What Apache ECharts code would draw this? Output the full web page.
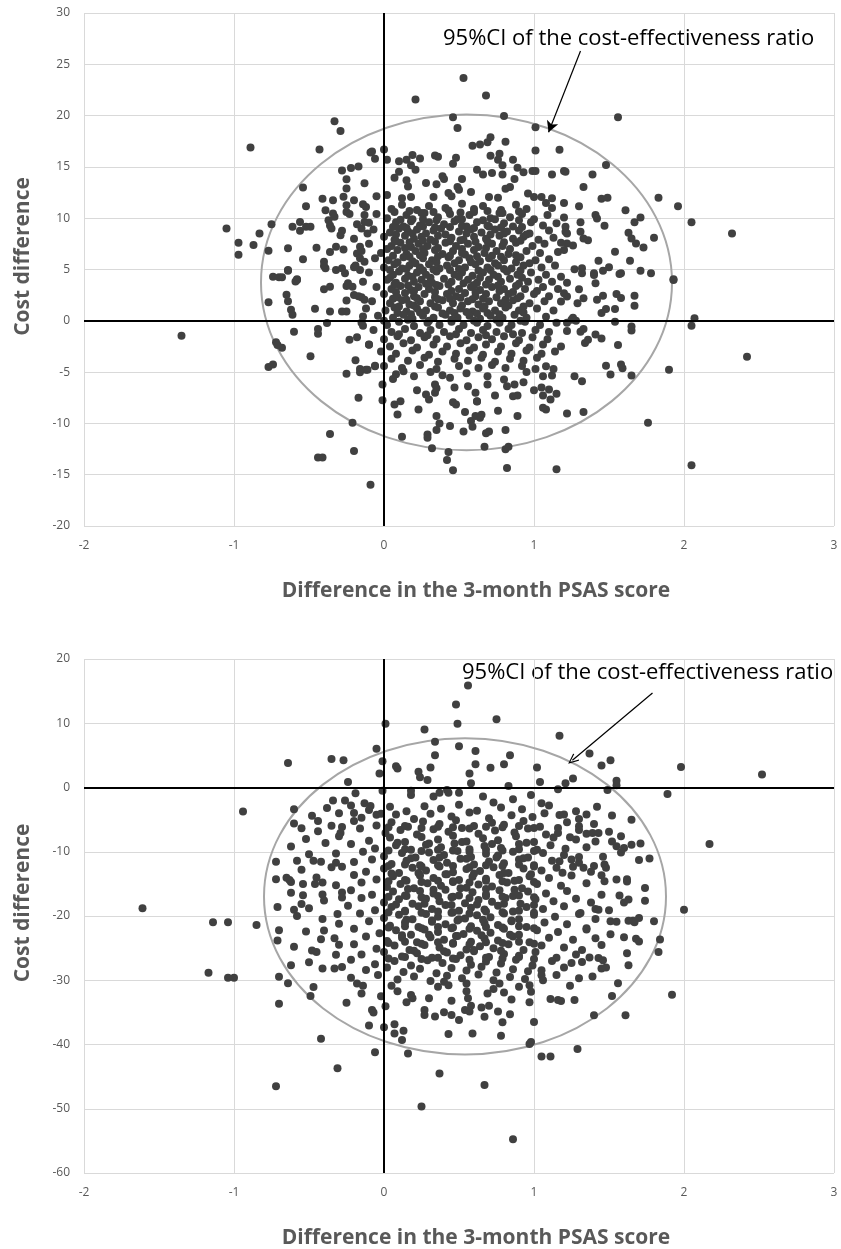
<!DOCTYPE html>
<html>
<head>
<meta charset="utf-8">
<script src="https://cdn.jsdelivr.net/npm/echarts@6/dist/echarts.min.js"></script>
<style>
  html, body { margin: 0; padding: 0; background: #fff; }
  #chart { width: 841px; height: 1249px; }
</style>
</head>
<body>
<div id="chart"></div>
<script>
// axis ticks
const xTicks = [-2, -1, 0, 1, 2, 3]
const topYTicks = [-20, -15, -10, -5, 0, 5, 10, 15, 20, 25, 30]
const bottomYTicks = [-60, -50, -40, -30, -20, -10, 0, 10, 20]

const xName = 'Difference in the 3-month PSAS score'
const yName = 'Cost difference'
const ciLabel = '95%CI of the cost-effectiveness ratio'

// ellipse: [centerX, centerY, radiusX, radiusY]
const topEllipse = [0.55, 3.74, 1.37, 16.36]
const bottomEllipse = [0.54, -16.95, 1.34, 24.6]

// arrow start / end in data coords
const topArrow = [[1.31, 26.3], [1.097, 18.38]]
const bottomArrow = [[1.79, 14.7], [1.256, 4.25]]

// upper chart, sparse points read one by one
const topOuter = [
  [-0.33,19.45],[-0.29,18.5],[-0.89,16.9],[-0.43,16.7],[-0.09,16.4],
  [-0.28,14.66],[-0.22,14.9],[-0.17,15.05],[-0.25,13.8],[-0.25,12.9],[-0.13,13.4],[-0.54,13.0],[-0.27,12.1],
  [-0.41,11.9],[-0.34,11.75],[-0.2,11.75],[-0.14,11.36],[-0.25,11.26],[-0.52,11.17],
  [-0.39,10.78],[-0.34,10.46],[-0.33,10.13],[-0.25,10.6],[-0.23,10.4],[-0.13,10.3],[-0.1,9.55],
  [-1.05,9.0],[-0.75,9.4],[-0.56,9.64],[-0.61,9.16],[-0.56,8.77],[-0.52,9.16],[-0.49,9.16],
  [-0.37,9.8],[-0.36,9.3],[-0.35,9.0],[-0.28,8.77],[-0.29,8.35],[-0.13,9.64],[-0.15,9.0],[-0.11,8.5],
  [-0.83,8.5],[-0.97,7.6],[-0.87,7.38],[-0.97,6.44],
  [-0.77,6.83],[-0.64,7.06],[-0.45,7.12],[-0.36,6.7],[-0.32,7.21],[-0.27,6.96],
  [-0.16,7.21],[-0.18,6.57],[-0.16,6.09],[-0.13,5.76],[-0.54,5.99],
  [-0.4,5.76],[-0.4,5.34],[-0.39,5.11],[-0.32,4.95],[-0.28,5.11],[-0.26,4.63],[-0.2,5.21],[-0.16,4.95],
  [-0.64,4.95],[-0.74,4.3],[-0.7,4.24],[-0.58,4.05],
  [0.53,23.66],[0.21,21.58],[0.68,21.97],[0.8,19.97],[0.46,19.84],[0.49,18.8],[1.01,18.87],[1.17,16.67],[1.01,16.6],
  [0.59,17.06],[0.64,17.18],[0.69,17.4],[0.71,17.9],[0.81,17.45],
  [-0.08,16.5],[0.0,16.7],[-0.06,15.8],
  [0.02,15.7],[0.1,15.56],[0.15,15.7],[0.19,16.15],[0.24,15.82],[0.34,16.1],[0.36,16.0],
  [0.18,15.15],[0.21,14.73],[0.48,15.9],[0.46,15.3],
  [0.71,16.08],[0.76,15.7],[0.77,16.28],[0.79,15.15],
  [0.86,15.7],[0.89,14.92],[0.93,14.47],[0.99,14.6],[1.01,14.6],[1.12,14.27],[1.2,14.6],
  [0.62,14.73],[0.66,14.27],[0.72,14.4],[0.79,14.27],[0.87,13.81],
  [0.07,13.95],[0.1,14.53],[0.15,13.69],[0.16,13.1],
  [0.28,13.42],[0.35,13.3],[0.39,14.08],[0.4,13.81],[0.52,13.81],
  [0.43,12.46],[0.49,13.04],[0.5,12.78],[0.45,12.14],
  [0.58,12.55],[0.7,12.07],[0.76,12.0],[0.81,12.88],[0.84,13.04],
  [0.96,12.4],[1.0,12.07],[1.05,12.07],[1.08,11.49],[1.12,11.94],[1.2,11.49],
  [-0.05,12.14],[0.02,12.27],[0.12,11.94],[0.18,12.07],[0.33,12.07],
  [1.56,19.84],[1.21,14.53],[1.48,15.18],[1.39,14.27],[1.33,13.04],[1.83,12.0],[1.96,11.17],
  [1.45,11.9],[1.49,12.0],[1.3,11.17],[1.61,10.78],[1.41,10.3],[1.42,9.97],[1.47,9.26],
  [1.2,10.07],[1.31,9.6],[1.21,9.16],[1.21,8.67],[1.22,8.5],[1.71,10.07],[1.67,9.6],[2.05,9.6],[2.32,8.5],
  [1.63,8.57],[1.65,8.03],[1.68,7.54],[1.73,7.15],[1.8,8.1],
  [1.31,8.67],[1.33,8.03],[1.36,7.86],[1.18,7.6],[1.22,7.54],[1.26,7.35],[1.2,6.9],
  [1.54,6.73],[1.43,5.85],[1.64,5.85],
  [1.27,5.02],[1.32,5.11],[1.32,4.63],[1.4,4.63],[1.46,4.88],[1.5,5.21],[1.58,4.63],[1.71,4.88],[1.78,4.63],[1.93,4.05],
  [-1.35,-1.46],[-0.68,4.24],[-0.64,4.88],[-0.59,3.82],[-0.58,3.98],
  [-0.4,3.07],[-0.36,3.33],[-0.65,2.55],[-0.64,1.91],[-0.77,1.82],
  [-0.62,1.07],[-0.61,0.58],[-0.46,1.17],[-0.36,0.9],[-0.28,0.9],[-0.25,0.9],
  [-0.25,1.97],[-0.2,2.52],[-0.15,2.3],[-0.13,2.04],[-0.21,3.33],[-0.25,3.4],[-0.24,3.66],
  [-0.38,-0.22],[-0.14,0.42],[-0.14,-0.49],[-0.6,-1.07],[-0.44,-0.8],[-0.44,-1.26],
  [-0.23,-1.84],[-0.1,-2.33],[-0.72,-2.1],[-0.71,-2.36],[-0.68,-2.62],[-0.49,-3.46],
  [-0.19,-3.85],[-0.16,-4.69],[-0.16,-5.02],[-0.12,-4.76],[-0.25,-5.15],[-0.77,-4.5],[-0.74,-4.27],
  [-0.17,-7.5],[-0.21,-9.93],[-0.36,-11.04],[-0.2,-12.69],[-0.44,-13.33],[-0.41,-13.33],[-0.09,-15.99],
  [0.46,-14.56],[0.82,-14.34],[1.15,-14.47],[0.42,-13.56],[0.43,-12.78],[0.32,-12.43],[0.12,-11.3],[0.29,-11.07],[0.29,-11.39],
  [0.67,-12.27],[0.81,-12.52],[0.83,-12.27],
  [0.35,-10.65],[0.44,-10.26],[0.53,-10.78],[0.68,-10.97],[0.7,-10.78],[0.81,-10.65],
  [0.37,-10.0],[0.58,-9.77],[0.59,-10.32],[0.61,-9.29],[0.64,-9.45],[0.65,-9.16],
  [0.35,-9.29],[0.54,-8.9],[0.48,-8.16],[0.46,-7.93],[0.62,-7.83],[0.76,-8.77],[0.89,-9.29],
  [1.06,-8.48],[1.08,-8.64],[1.22,-9.03],
  [0.09,-9.13],[0.07,-8.16],[0.11,-7.83],[0.23,-8.64],[0.22,-6.77],[0.28,-7.18],[0.3,-7.67],[0.34,-7.02],[0.34,-6.21],[0.35,-6.57],
  [-0.01,-7.74],[-0.01,-6.21],
  [0.06,-5.68],[0.13,-4.92],[-0.06,-4.44],[-0.11,-4.76],[-0.06,-4.37],
  [0.44,-5.55],[0.47,-6.5],[0.56,-6.38],[0.61,-7.02],[0.62,-7.86],[0.69,-6.21],[0.74,-7.28],
  [0.8,-5.73],[0.82,-6.38],[0.87,-6.21],[0.86,-7.35],[0.89,-7.28],[0.93,-5.99],[1.0,-6.77],
  [1.05,-6.5],[1.06,-7.28],[1.1,-6.7],[1.15,-7.1],[1.11,-7.67],[1.12,-5.34],[1.13,-4.69],[1.06,-5.4],[1.08,-4.44],
  [1.93,3.98],[2.07,0.26],[2.05,-0.49],[2.42,-3.5],[1.9,-4.76],[1.76,-9.93],[2.05,-14.08],
  [1.65,-5.34],[1.59,-4.63],[1.58,-4.27],[1.51,-5.24],[1.48,-4.37],[1.27,-5.4],[1.32,-5.9],[1.33,-8.9],
  [1.56,-2.36],[1.65,-0.55],[1.65,-0.94],[1.54,-0.1],
  [1.45,-1.72],[1.41,-1.33],[1.36,-1.84],[1.34,-2.17],[1.31,-1.07],[1.33,-0.8],[1.22,-1.0],[1.18,-2.5],
  [1.67,2.43],[1.67,1.46],[1.55,2.62],[1.58,2.23],[1.54,1.14],[1.48,1.14],[1.45,0.75],[1.46,2.43],[1.42,2.04],[1.41,3.66],[1.4,4.47],[1.57,4.56],
  [1.25,0.1],[1.22,-0.2],[1.26,0.3],[1.28,0.0],
  [1.18,4.3],[1.3,3.07],[1.22,2.36],[1.33,2.2],[1.29,1.72],[1.18,1.88],[1.2,2.69],[1.22,3.72]
]

// upper chart, dense middle, estimated
const topCore = [
  [-0.12,11.1],[0.05,10.9],[0.12,11.3],[0.22,10.8],[0.3,11.2],[0.41,11.0],[0.52,11.4],[0.6,10.9],[0.66,11.2],[0.78,10.8],[0.88,11.3],[0.95,10.9],[1.12,11.0],
  [-0.05,10.4],[0.02,10.0],[0.15,10.3],[0.19,9.9],[0.27,10.5],[0.36,10.1],[0.44,10.4],[0.49,9.9],[0.57,10.3],[0.71,10.0],[0.77,10.5],[0.84,10.1],[0.92,10.4],[1.0,9.9],[1.09,10.3],
  [-0.18,9.4],[0.08,9.6],[0.13,9.2],[0.18,9.7],[0.24,9.3],[0.3,9.6],[0.4,9.4],[0.47,9.7],[0.55,9.2],[0.62,9.6],[0.69,9.3],[0.8,9.5],[0.86,9.2],[0.98,9.6],[1.06,9.3],[1.15,9.5],
  [-0.07,8.9],[0.04,8.6],[0.1,9.0],[0.16,8.7],[0.22,8.9],[0.28,8.5],[0.33,8.8],[0.38,9.0],[0.5,8.7],[0.58,8.9],[0.65,8.6],[0.74,8.9],[0.82,8.7],[0.9,8.8],[0.97,8.5],[1.1,8.8],
  [-0.2,8.0],[0.0,8.2],[0.07,7.9],[0.14,8.3],[0.2,8.0],[0.25,8.2],[0.31,7.9],[0.36,8.3],[0.45,8.1],[0.53,7.9],[0.6,8.2],[0.68,8.0],[0.77,8.3],[0.86,8.0],[0.93,8.2],[1.03,7.9],[1.13,8.1],
  [-0.1,7.5],[0.05,7.3],[0.11,7.6],[0.18,7.2],[0.23,7.5],[0.29,7.3],[0.41,7.6],[0.48,7.3],[0.56,7.5],[0.63,7.2],[0.72,7.5],[0.79,7.3],[0.88,7.6],[0.99,7.3],[1.07,7.5],
  [-0.15,6.8],[-0.02,6.6],[0.09,6.9],[0.15,6.5],[0.21,6.8],[0.27,6.6],[0.34,6.9],[0.39,6.5],[0.46,6.8],[0.52,6.6],[0.6,6.9],[0.67,6.6],[0.75,6.8],[0.83,6.5],[0.95,6.8],[1.04,6.6],[1.16,6.7],
  [-0.06,6.1],[0.03,5.9],[0.13,6.2],[0.19,5.8],[0.26,6.1],[0.32,5.9],[0.43,6.2],[0.5,5.9],[0.57,6.1],[0.64,5.8],[0.7,6.1],[0.8,5.9],[0.91,6.2],[1.01,5.9],[1.1,6.0],
  [-0.19,5.4],[0.0,5.2],[0.07,5.5],[0.12,5.1],[0.17,5.4],[0.24,5.2],[0.3,5.5],[0.37,5.1],[0.42,5.4],[0.54,5.2],[0.61,5.5],[0.69,5.2],[0.76,5.4],[0.85,5.1],[0.93,5.4],[1.05,5.2],[1.14,5.4],
  [-0.1,4.7],[0.06,4.5],[0.1,4.8],[0.16,4.4],[0.22,4.7],[0.28,4.5],[0.35,4.8],[0.47,4.5],[0.52,4.7],[0.59,4.4],[0.66,4.7],[0.73,4.5],[0.82,4.8],[0.89,4.5],[0.98,4.7],[1.08,4.5],
  [-0.14,3.8],[0.02,4.0],[0.08,3.7],[0.14,4.1],[0.2,3.8],[0.25,4.0],[0.32,3.7],[0.4,4.1],[0.45,3.8],[0.56,4.0],[0.62,3.7],[0.7,4.0],[0.78,3.8],[0.84,4.1],[0.96,3.8],[1.03,4.0],[1.12,3.8],
  [-0.05,3.3],[0.05,3.1],[0.11,3.4],[0.18,3.0],[0.23,3.3],[0.3,3.1],[0.37,3.4],[0.5,3.1],[0.58,3.3],[0.64,3.0],[0.72,3.3],[0.8,3.1],[0.88,3.4],[0.94,3.1],[1.06,3.3],[1.16,3.1],
  [-0.17,2.4],[0.0,2.6],[0.09,2.3],[0.14,2.7],[0.2,2.4],[0.27,2.6],[0.34,2.3],[0.42,2.6],[0.48,2.4],[0.54,2.7],[0.61,2.4],[0.68,2.6],[0.75,2.3],[0.83,2.6],[0.91,2.4],[1.0,2.6],[1.1,2.4],
  [-0.08,1.9],[0.04,1.7],[0.12,2.0],[0.17,1.6],[0.24,1.9],[0.31,1.7],[0.39,2.0],[0.46,1.7],[0.56,1.9],[0.63,1.6],[0.7,1.9],[0.78,1.7],[0.86,2.0],[0.97,1.7],[1.07,1.9],
  [-0.12,1.2],[0.01,1.0],[0.07,1.3],[0.15,0.9],[0.22,1.2],[0.28,1.0],[0.36,1.3],[0.44,1.0],[0.51,1.2],[0.59,0.9],[0.66,1.2],[0.74,1.0],[0.81,1.3],[0.9,1.0],[1.02,1.2],[1.13,1.0],
  [-0.04,0.5],[0.06,0.3],[0.13,0.6],[0.19,0.2],[0.26,0.5],[0.33,0.3],[0.41,0.6],[0.49,0.3],[0.57,0.5],[0.64,0.2],[0.71,0.5],[0.79,0.3],[0.87,0.6],[0.95,0.3],[1.08,0.4],
  [-0.15,-0.2],[0.02,-0.4],[0.1,-0.1],[0.2,-0.5],[0.29,-0.2],[0.37,-0.4],[0.45,-0.1],[0.53,-0.4],[0.62,-0.2],[0.69,-0.5],[0.77,-0.2],[0.85,-0.4],[0.94,-0.1],[1.04,-0.4],[1.15,-0.2],
  [-0.07,-0.9],[0.05,-1.1],[0.14,-0.8],[0.24,-1.2],[0.31,-0.9],[0.4,-1.1],[0.5,-0.8],[0.58,-1.2],[0.66,-0.9],[0.75,-1.1],[0.83,-0.8],[0.92,-1.2],[1.01,-0.9],[1.1,-1.1],
  [-0.18,-1.6],[0.0,-1.8],[0.09,-1.5],[0.18,-1.9],[0.27,-1.6],[0.35,-1.8],[0.44,-1.5],[0.55,-1.9],[0.63,-1.6],[0.72,-1.8],[0.8,-1.5],[0.9,-1.9],[0.99,-1.6],[1.09,-1.8],
  [-0.1,-2.3],[0.04,-2.5],[0.13,-2.2],[0.22,-2.6],[0.33,-2.3],[0.42,-2.5],[0.51,-2.2],[0.6,-2.6],[0.68,-2.3],[0.78,-2.5],[0.88,-2.2],[0.97,-2.6],[1.06,-2.3],
  [-0.02,-3.0],[0.08,-3.2],[0.19,-2.9],[0.3,-3.3],[0.39,-3.0],[0.48,-3.2],[0.57,-2.9],[0.66,-3.3],[0.76,-3.0],[0.85,-3.2],[0.95,-2.9],[1.05,-3.2],[1.14,-3.0],
  [0.05,-3.7],[0.16,-3.9],[0.27,-3.6],[0.36,-4.0],[0.47,-3.7],[0.56,-3.9],[0.65,-3.6],[0.74,-4.0],[0.84,-3.7],[0.93,-3.9],[1.02,-3.6],
  [0.0,-4.4],[0.12,-4.6],[0.24,-4.3],[0.35,-4.7],[0.5,-4.4],[0.63,-4.6],[0.72,-4.3],[0.81,-4.6],[0.92,-4.4],[1.01,-4.7],
  [0.08,-5.2],[0.2,-5.4],[0.31,-5.0],[0.39,-5.3],[0.55,-5.1],[0.69,-5.4],[0.95,-5.0],
  [0.11,9.85],[0.26,9.9],[0.35,9.8],[0.52,9.9],[0.66,9.8],[0.74,9.9],[0.9,9.8],
  [0.08,8.4],[0.19,8.5],[0.41,8.4],[0.55,8.5],[0.71,8.4],[0.8,8.5],[0.95,8.4],
  [0.02,7.0],[0.14,7.1],[0.26,7.0],[0.36,7.1],[0.52,7.0],[0.68,7.1],[0.84,7.0],
  [0.09,5.7],[0.21,5.6],[0.35,5.7],[0.47,5.6],[0.58,5.7],[0.74,5.6],[0.88,5.7],[0.97,5.6],
  [0.04,4.2],[0.19,4.3],[0.31,4.2],[0.5,4.3],[0.64,4.2],[0.76,4.3],[0.92,4.2],
  [0.08,2.8],[0.2,2.9],[0.34,2.8],[0.45,2.9],[0.61,2.8],[0.77,2.9],[0.86,2.8],[1.02,2.9],
  [0.1,1.4],[0.2,1.5],[0.34,1.4],[0.52,1.5],[0.67,1.4],[0.83,1.5],[0.93,1.4],
  [0.0,0.0],[0.16,0.1],[0.3,0.0],[0.45,0.1],[0.6,0.0],[0.75,0.1],[0.91,0.0],
  [0.1,-1.3],[0.29,-1.4],[0.48,-1.3],[0.68,-1.4],[0.86,-1.3],
  [0.07,10.6],[0.17,10.7],[0.25,10.5],[0.33,10.6],[0.43,10.75],[0.51,10.55],[0.6,10.6],[0.69,10.7],[0.79,10.5],[0.9,10.65],
  [0.06,9.15],[0.15,9.05],[0.26,9.2],[0.34,9.1],[0.44,9.15],[0.52,9.25],[0.6,9.05],[0.7,9.2],[0.78,9.1],[0.92,9.15],
  [0.08,7.75],[0.17,7.65],[0.26,7.8],[0.34,7.7],[0.44,7.75],[0.51,7.85],[0.61,7.7],[0.69,7.75],[0.8,7.65],[0.91,7.8],
  [0.06,6.35],[0.17,6.25],[0.24,6.4],[0.36,6.3],[0.44,6.35],[0.54,6.45],[0.62,6.3],[0.72,6.35],[0.78,6.25],[0.88,6.4],
  [0.04,4.95],[0.15,5.05],[0.26,4.9],[0.33,5.0],[0.44,4.95],[0.5,5.05],[0.63,4.9],[0.71,4.95],[0.8,5.05],[0.91,4.9],
  [0.07,3.55],[0.16,3.45],[0.28,3.6],[0.35,3.5],[0.43,3.55],[0.53,3.65],[0.6,3.5],[0.68,3.55],[0.76,3.45],[0.9,3.6],
  [0.06,2.15],[0.15,2.05],[0.22,2.2],[0.36,2.1],[0.44,2.15],[0.51,2.25],[0.59,2.1],[0.66,2.15],[0.81,2.05],[0.89,2.2],
  [0.09,0.75],[0.18,0.65],[0.24,0.8],[0.39,0.7],[0.47,0.75],[0.55,0.85],[0.62,0.7],[0.69,0.75],[0.77,0.65],[0.93,0.8]
]

// lower chart, sparse points read one by one
const bottomOuter = [
  [-0.64,3.83],[-0.35,4.45],[-0.27,4.25],[-0.94,-3.73],[-0.6,-3.37],[-0.34,-2.04],[-0.26,-2.04],
  [-0.44,-5.22],[-0.35,-5.95],[-0.28,-6.15],[-0.55,-6.36],[-0.39,-8.62],
  [-0.32,-10.27],[-0.32,-11.7],[-0.28,-12.32],[-0.72,-11.55],[-0.58,-11.4],[-0.47,-11.4],[-0.42,-11.55],
  [-0.72,-14.29],[-0.65,-14.03],[-0.63,-14.4],
  [0.56,15.88],[0.48,12.9],[0.49,9.91],[0.75,10.63],[0.01,9.91],[0.27,9.03],[1.17,8.06],
  [0.34,7.13],[0.34,5.02],[0.5,6.41],[0.61,5.68],[0.61,3.63],[0.84,5.02],[0.8,3.63],[0.71,3.06],
  [-0.05,6.05],[-0.01,4.09],[-0.03,2.19],[-0.24,0.85],[-0.19,-0.9],
  [0.08,3.32],[0.09,2.97],[0.23,2.44],[0.24,1.58],[0.29,1.16],[0.31,3.12],
  [0.57,2.19],[0.58,0.65],[0.83,0.23],[1.02,3.12],[1.04,0.85],[0.98,-1.16],
  [-0.01,-0.49],
  [0.18,-0.49],[0.18,-1.16],[0.33,-1.42],[0.37,-0.8],[0.42,-0.39],[0.43,-0.8],[0.5,-0.8],[0.66,-1.42],[0.73,-2.35],[0.86,-1.82],[1.05,-2.44],
  [-0.13,-2.44],[-0.09,-2.86],[-0.05,-4.25],[-0.02,-4.09],[-0.2,-3.98],[-0.29,-7.07],
  [1.37,5.28],[1.45,3.43],[1.51,4.25],[1.98,3.21],[2.52,2.04],
  [1.26,1.42],[1.21,0.65],[1.16,-0.28],[1.55,1.05],[1.55,0.34],[1.49,-0.39],[1.89,-1.0],[2.17,-8.78],
  [1.35,-4.2],[1.52,-4.35],[1.65,-5.02],[1.17,-4.29],[1.2,-4.2],
  [1.3,-6.05],[1.35,-7.18],[1.39,-7.07],[1.43,-7.07],[1.41,-8.42],[1.58,-7.6],[1.52,-8.42],[1.55,-9.14],[1.6,-9.4],[1.71,-8.73],[1.77,-11.04],
  [1.24,-7.75],[1.16,-6.3],[1.16,-7.07],[1.21,-9.55],
  [1.46,-10.78],[1.47,-11.97],[1.25,-11.2],[1.26,-12.32],[1.33,-12.48],[1.4,-12.23],[1.48,-12.48],[1.62,-14.29],[1.17,-11.46],[1.19,-13.25],
  [-1.61,-18.81],[-1.14,-20.97],[-1.04,-20.97],[-0.85,-21.39],[-1.17,-28.85],[-1.04,-29.62],[-1.0,-29.62],
  [-0.7,-22.2],[-0.71,-23.8],
  [-0.62,-14.7],[-0.54,-15.01],[-0.46,-15.01],[-0.41,-14.8],[-0.41,-16.65],[-0.54,-16.76],[-0.55,-18.15],[-0.71,-18.6],[-0.6,-19.03],
  [-0.41,-20.46],[-0.4,-22.27],[-0.33,-23.45],[-0.3,-24.48],[-0.32,-26.02],[-0.48,-25.36],[-0.45,-25.6],[-0.41,-28.19],[-0.33,-28.19],[-0.28,-27.93],
  [-0.31,-19.69],[-0.28,-16.35],[-0.28,-17.12],[-0.62,-27.67],
  [-0.7,-29.47],[-0.64,-30.45],[-0.7,-33.64],[-0.47,-31.07],[-0.49,-32.46],[-0.42,-39.1],[-0.31,-43.68],[-0.72,-46.51],
  [0.67,-46.3],[0.37,-44.5],[-0.06,-41.2],[0.16,-41.42],[1.05,-41.88],[1.11,-41.88],[0.97,-39.92],[0.98,-39.61],
  [0.25,-49.65],[0.86,-54.75],
  [-0.1,-37.03],[0.0,-37.3],[0.07,-36.83],[0.07,-38.27],[0.13,-37.87],[0.12,-39.3],
  [0.43,-38.38],[0.59,-38.27],[0.78,-38.64],[1.0,-36.48],[0.79,-36.52],[0.67,-35.7],[0.76,-34.87],[0.84,-35.29],[0.7,-33.95],[0.65,-34.26],
  [0.27,-34.63],[0.27,-35.4],[0.34,-35.65],[0.4,-34.98],[0.45,-35.4],[0.5,-36.17],[0.54,-34.63],[0.57,-34.87],
  [-0.08,-34.63],[-0.07,-35.03],[0.01,-34.05],
  [0.15,-33.44],[0.18,-32.3],[0.19,-32.82],[0.05,-30.86],[0.09,-31.7],[-0.18,-30.5],[-0.14,-30.86],[-0.15,-32.05],
  [0.36,-31.0],[0.4,-30.24],[0.43,-30.76],[0.55,-30.5],[0.55,-31.7],[0.56,-32.82],[0.58,-33.95],[0.69,-32.05],[0.73,-31.38],[0.77,-30.5],[0.8,-31.9],[0.9,-31.0],[0.97,-30.76],[0.98,-31.78],[0.97,-33.44],[1.11,-32.92],[1.16,-33.08],[1.05,-28.45],[1.05,-29.22],[1.06,-29.99],
  [2.0,-19.03],[1.92,-32.25],[1.61,-35.44],[1.4,-35.44],[1.29,-40.7],[1.52,-32.46],[1.56,-30.45],
  [1.24,-30.86],[1.18,-33.24],[1.27,-33.08],[1.39,-29.42],[1.63,-27.67],[1.45,-28.19],[1.48,-28.03],
  [1.83,-25.6],[1.84,-23.66],[1.8,-20.82],[1.67,-20.97],[1.66,-20.72],[1.68,-23.55],[1.7,-23.97],[1.63,-20.72],[1.51,-20.82],[1.51,-22.83],
  [1.74,-15.63],[1.74,-17.64],[1.62,-14.64],[1.57,-16.8],[1.63,-17.42],
  [1.45,-13.67],[1.47,-14.6],[1.41,-20.46],[1.38,-17.88],[1.41,-18.92],[1.43,-19.03],[1.31,-19.54],[1.35,-21.9],[1.41,-23.45],[1.43,-26.54],[1.46,-26.9],[1.37,-26.44],[1.32,-27.15],[1.32,-25.3],[1.28,-26.0]
]

// lower chart, dense middle, estimated
const bottomCore = [
  [-0.38,-3.2],[-0.22,-2.8],[-0.1,-3.5],[0.04,-3.0],[0.15,-3.7],[0.27,-2.9],[0.38,-3.3],[0.5,-2.7],[0.62,-3.6],[0.78,-3.1],[0.92,-3.4],[1.1,-2.8],[1.28,-3.7],[1.42,-3.0],
  [-0.48,-4.4],[-0.3,-4.0],[-0.15,-4.7],[0.08,-4.2],[0.2,-4.9],[0.31,-4.1],[0.45,-4.5],[0.57,-3.9],[0.7,-4.8],[0.85,-4.3],[0.99,-4.6],[1.07,-4.0],[1.3,-4.9],
  [-0.6,-5.6],[-0.2,-5.2],[-0.05,-5.9],[0.05,-5.4],[0.16,-6.1],[0.26,-5.3],[0.37,-5.7],[0.48,-5.1],[0.6,-6.0],[0.72,-5.5],[0.8,-5.8],[0.93,-5.2],[1.04,-6.1],[1.22,-5.4],[1.4,-5.7],
  [-0.44,-6.8],[-0.16,-6.4],[0.01,-7.1],[0.11,-6.6],[0.22,-7.3],[0.33,-6.5],[0.43,-6.9],[0.52,-6.3],[0.63,-7.2],[0.74,-6.7],[0.87,-7.0],[0.96,-6.4],[1.08,-7.3],[1.3,-6.6],[1.5,-6.9],
  [-0.52,-8.0],[-0.3,-7.6],[-0.1,-8.3],[0.04,-7.8],[0.14,-8.5],[0.25,-7.7],[0.36,-8.1],[0.46,-7.5],[0.55,-8.4],[0.66,-7.9],[0.76,-8.2],[0.88,-7.6],[1.0,-8.5],[1.13,-7.8],[1.28,-8.1],
  [-0.62,-9.2],[-0.22,-8.8],[-0.06,-9.5],[0.08,-9.0],[0.18,-9.7],[0.28,-8.9],[0.38,-9.3],[0.47,-8.7],[0.57,-9.6],[0.67,-9.1],[0.78,-9.4],[0.9,-8.8],[1.02,-9.7],[1.11,-9.0],[1.35,-9.3],[1.65,-8.9],
  [-0.5,-10.4],[-0.14,-10.0],[0.0,-10.7],[0.12,-10.2],[0.21,-10.9],[0.3,-10.1],[0.4,-10.5],[0.49,-9.9],[0.58,-10.8],[0.68,-10.3],[0.76,-10.6],[0.86,-10.0],[0.96,-10.9],[1.06,-10.2],[1.2,-10.5],[1.58,-10.1],[1.3,-10.8],
  [-0.2,-11.6],[-0.08,-11.2],[0.05,-11.9],[0.15,-11.4],[0.24,-12.1],[0.33,-11.3],[0.42,-11.7],[0.51,-11.1],[0.6,-12.0],[0.7,-11.5],[0.8,-11.8],[0.9,-11.2],[1.0,-12.1],[1.12,-11.4],[1.3,-11.7],[1.7,-11.3],
  [-0.55,-12.8],[-0.35,-12.4],[-0.12,-13.1],[0.0,-12.6],[0.1,-13.3],[0.19,-12.5],[0.28,-12.9],[0.37,-12.3],[0.46,-13.2],[0.55,-12.7],[0.64,-13.0],[0.73,-12.4],[0.83,-13.3],[0.93,-12.6],[1.05,-12.9],[1.15,-12.5],[1.38,-13.1],
  [-0.45,-14.0],[-0.2,-13.6],[-0.05,-14.3],[0.06,-13.8],[0.15,-14.5],[0.24,-13.7],[0.33,-14.1],[0.42,-13.5],[0.5,-14.4],[0.59,-13.9],[0.68,-14.2],[0.77,-13.6],[0.87,-14.5],[0.97,-13.8],[1.1,-14.1],[1.25,-13.7],[1.55,-14.3],
  [-0.32,-15.2],[-0.15,-14.8],[0.02,-15.5],[0.11,-15.0],[0.2,-15.7],[0.29,-14.9],[0.38,-15.3],[0.46,-14.7],[0.55,-15.6],[0.63,-15.1],[0.72,-15.4],[0.82,-14.8],[0.92,-15.7],[1.02,-15.0],[1.18,-15.3],[1.35,-14.9],
  [-0.62,-16.4],[-0.22,-16.0],[-0.08,-16.7],[0.06,-16.2],[0.15,-16.9],[0.24,-16.1],[0.33,-16.5],[0.41,-15.9],[0.5,-16.8],[0.59,-16.3],[0.68,-16.6],[0.77,-16.0],[0.86,-16.9],[0.96,-16.2],[1.08,-16.5],[1.22,-16.1],[1.45,-16.7],
  [-0.4,-17.6],[-0.15,-17.2],[0.0,-17.9],[0.1,-17.4],[0.19,-18.1],[0.28,-17.3],[0.37,-17.7],[0.45,-17.1],[0.54,-18.0],[0.63,-17.5],[0.72,-17.8],[0.81,-17.2],[0.91,-18.1],[1.01,-17.4],[1.13,-17.7],[1.28,-17.3],[1.6,-17.9],
  [-0.5,-18.8],[-0.24,-18.4],[-0.06,-19.1],[0.05,-18.6],[0.14,-19.3],[0.23,-18.5],[0.32,-18.9],[0.41,-18.3],[0.5,-19.2],[0.58,-18.7],[0.67,-19.0],[0.76,-18.4],[0.86,-19.3],[0.95,-18.6],[1.06,-18.9],[1.2,-18.5],[1.5,-19.1],
  [-0.58,-20.0],[-0.16,-19.6],[0.0,-20.3],[0.1,-19.8],[0.19,-20.5],[0.28,-19.7],[0.36,-20.1],[0.45,-19.5],[0.54,-20.4],[0.62,-19.9],[0.71,-20.2],[0.8,-19.6],[0.9,-20.5],[1.0,-19.8],[1.14,-20.1],[1.3,-19.7],[1.7,-20.3],
  [-0.3,-21.2],[-0.1,-20.8],[0.04,-21.5],[0.14,-21.0],[0.23,-21.7],[0.32,-20.9],[0.41,-21.3],[0.49,-20.7],[0.58,-21.6],[0.67,-21.1],[0.76,-21.4],[0.85,-20.8],[0.95,-21.7],[1.07,-21.0],[1.22,-21.3],[1.55,-20.9],
  [-0.52,-22.4],[-0.2,-22.0],[-0.03,-22.7],[0.08,-22.2],[0.18,-22.9],[0.27,-22.1],[0.36,-22.5],[0.45,-21.9],[0.53,-22.8],[0.62,-22.3],[0.71,-22.6],[0.8,-22.0],[0.9,-22.9],[1.02,-22.2],[1.16,-22.5],[1.35,-22.1],
  [-0.42,-23.6],[-0.12,-23.2],[0.02,-23.9],[0.12,-23.4],[0.22,-24.1],[0.31,-23.3],[0.4,-23.7],[0.49,-23.1],[0.58,-24.0],[0.67,-23.5],[0.76,-23.8],[0.86,-23.2],[0.97,-24.1],[1.1,-23.4],[1.26,-23.7],[1.6,-23.3],
  [-0.6,-24.8],[-0.2,-24.4],[-0.05,-25.1],[0.07,-24.6],[0.17,-25.3],[0.27,-24.5],[0.37,-24.9],[0.46,-24.3],[0.55,-25.2],[0.64,-24.7],[0.73,-25.0],[0.83,-24.4],[0.93,-25.3],[1.05,-24.6],[1.2,-24.9],[1.45,-24.5],
  [-0.15,-26.0],[0.0,-25.6],[0.12,-26.3],[0.22,-25.8],[0.32,-26.5],[0.42,-25.7],[0.51,-26.1],[0.6,-25.5],[0.7,-26.4],[0.8,-25.9],[0.9,-26.2],[1.01,-25.6],[1.15,-26.5],[1.62,-25.8],
  [-0.5,-27.2],[-0.22,-26.8],[-0.06,-27.5],[0.07,-27.0],[0.18,-27.7],[0.29,-26.9],[0.39,-27.3],[0.48,-26.7],[0.58,-27.6],[0.68,-27.1],[0.78,-27.4],[0.88,-26.8],[0.99,-27.7],[1.12,-27.0],[1.25,-27.3],
  [-0.12,-28.4],[0.02,-28.0],[0.13,-28.7],[0.24,-28.2],[0.35,-28.9],[0.45,-28.1],[0.55,-28.5],[0.65,-27.9],[0.75,-28.8],[0.86,-28.3],[0.96,-28.6],[1.2,-28.0],
  [-0.22,-29.6],[-0.04,-29.2],[0.09,-29.9],[0.2,-29.4],[0.31,-30.1],[0.42,-29.3],[0.52,-29.7],[0.63,-29.1],[0.73,-30.0],[0.84,-29.5],[0.94,-29.8],[1.15,-29.2],[1.3,-29.7],
  [-0.02,-32.5],[0.3,-32.8],[0.45,-33.2],[0.85,-33.0],[-0.25,-33.5],
  [0.09,-8.6],[0.3,-8.7],[0.52,-8.5],[0.72,-8.8],[0.95,-8.6],
  [0.18,-11.0],[0.37,-10.9],[0.55,-11.1],[0.75,-10.9],[0.93,-11.0],
  [0.05,-13.4],[0.23,-13.3],[0.41,-13.5],[0.6,-13.4],[0.8,-13.3],[0.98,-13.5],
  [0.16,-15.8],[0.33,-15.9],[0.51,-15.7],[0.68,-15.8],[0.87,-15.9],
  [0.08,-18.2],[0.27,-18.1],[0.45,-18.3],[0.62,-18.2],[0.8,-18.1],[1.0,-18.3],
  [0.15,-20.6],[0.32,-20.7],[0.5,-20.5],[0.66,-20.6],[0.85,-20.7],
  [0.12,-23.0],[0.3,-22.9],[0.48,-23.1],[0.65,-23.0],[0.84,-22.9],
  [0.2,-25.4],[0.4,-25.5],[0.6,-25.3],[0.78,-25.4],
  [0.03,-6.2],[0.14,-6.0],[0.25,-6.3],[0.36,-6.1],[0.46,-6.2],[0.57,-6.4],[0.68,-6.1],[0.79,-6.2],[0.9,-6.0],[1.0,-6.3],
  [0.03,-9.8],[0.14,-9.6],[0.25,-9.9],[0.36,-9.7],[0.46,-9.8],[0.57,-10.0],[0.68,-9.7],[0.79,-9.8],[0.9,-9.6],[1.0,-9.9],
  [0.03,-12.2],[0.14,-12.0],[0.25,-12.3],[0.36,-12.1],[0.46,-12.2],[0.57,-12.4],[0.68,-12.1],[0.79,-12.2],[0.9,-12.0],[1.0,-12.3],
  [0.03,-14.6],[0.14,-14.4],[0.25,-14.7],[0.36,-14.5],[0.46,-14.6],[0.57,-14.8],[0.68,-14.5],[0.79,-14.6],[0.9,-14.4],[1.0,-14.7],
  [0.03,-17.0],[0.14,-16.8],[0.25,-17.1],[0.36,-16.9],[0.46,-17.0],[0.57,-17.2],[0.68,-16.9],[0.79,-17.0],[0.9,-16.8],[1.0,-17.1],
  [0.03,-19.4],[0.14,-19.2],[0.25,-19.5],[0.36,-19.3],[0.46,-19.4],[0.57,-19.6],[0.68,-19.3],[0.79,-19.4],[0.9,-19.2],[1.0,-19.5],
  [0.03,-21.8],[0.14,-21.6],[0.25,-21.9],[0.36,-21.7],[0.46,-21.8],[0.57,-22.0],[0.68,-21.7],[0.79,-21.8],[0.9,-21.6],[1.0,-21.9],
  [0.03,-24.2],[0.14,-24.0],[0.25,-24.3],[0.36,-24.1],[0.46,-24.2],[0.57,-24.4],[0.68,-24.1],[0.79,-24.2],[0.9,-24.0],[1.0,-24.3],
  [0.03,-26.6],[0.14,-26.4],[0.25,-26.7],[0.36,-26.5],[0.46,-26.6],[0.57,-26.8],[0.68,-26.5],[0.79,-26.6],[0.9,-26.4],[1.0,-26.7]
]

const FONT = '"Open Sans", sans-serif'
const TEXT = '#595959'
const GRIDLINE = '#d9d9d9'
const DOT = '#404040'

const chart = echarts.init(document.getElementById('chart'), null, { renderer: 'canvas' })

function xAxisOf(gridIndex) {
  return {
    gridIndex,
    type: 'value',
    min: xTicks[0],
    max: xTicks[xTicks.length - 1],
    interval: 1,
    name: xName,
    nameLocation: 'middle',
    nameGap: 55,
    nameTextStyle: { color: TEXT, fontFamily: FONT, fontSize: 21, fontWeight: 'bold', padding: [0, 0, 0, 34] },
    axisLine: { show: false },
    axisTick: { show: false },
    axisLabel: { color: TEXT, fontFamily: FONT, fontSize: 12, margin: 14 },
    splitLine: { show: true, lineStyle: { color: GRIDLINE, width: 1 } }
  }
}

function yAxisOf(gridIndex, ticks) {
  return {
    gridIndex,
    type: 'value',
    min: ticks[0],
    max: ticks[ticks.length - 1],
    interval: ticks[1] - ticks[0],
    name: yName,
    nameLocation: 'middle',
    nameGap: 50,
    nameRotate: 90,
    nameTextStyle: { color: TEXT, fontFamily: FONT, fontSize: 21, fontWeight: 'bold', padding: [0, 0, 0, 26] },
    axisLine: { show: false },
    axisTick: { show: false },
    axisLabel: { color: TEXT, fontFamily: FONT, fontSize: 12, margin: 14 },
    splitLine: { show: true, lineStyle: { color: GRIDLINE, width: 1 } }
  }
}

function ellipseSeries(idx, e) {
  return {
    type: 'custom',
    xAxisIndex: idx,
    yAxisIndex: idx,
    silent: true,
    z: 1,
    data: [e],
    renderItem: (params, api) => {
      const c = api.coord([api.value(0), api.value(1)])
      const s = api.size([api.value(2), api.value(3)])
      return {
        type: 'ellipse',
        shape: { cx: c[0], cy: c[1], rx: s[0], ry: s[1] },
        style: { fill: 'none', stroke: '#a6a6a6', lineWidth: 2 }
      }
    }
  }
}

const openArrow = 'path://M0,0 L6,10 L4.8,10.8 L0,2.6 L-4.8,10.8 L-6,10 Z'

function dotSeries(idx, data, arrow, arrowSymbol) {
  return {
    type: 'scatter',
    xAxisIndex: idx,
    yAxisIndex: idx,
    data,
    symbolSize: 8,
    z: 2,
    silent: true,
    itemStyle: { color: DOT, opacity: 1 },
    markLine: {
      silent: true,
      animation: false,
      symbol: ['none', 'none'],
      label: { show: false },
      lineStyle: { color: '#000', width: 2, type: 'solid' },
      data: [
        { xAxis: 0 },
        { yAxis: 0 },
        [
          { coord: arrow[0], symbol: 'none', lineStyle: { color: '#000', width: 1.2, type: 'solid' } },
          { coord: arrow[1], symbol: arrowSymbol, symbolSize: [9, 11], lineStyle: { color: '#000', width: 1.2, type: 'solid' } }
        ]
      ]
    }
  }
}

const option = {
  animation: false,
  backgroundColor: '#fff',
  grid: [
    { left: 84, right: 7, top: 13, height: 513, outerBoundsMode: 'none' },
    { left: 84, right: 7, top: 659, height: 514, outerBoundsMode: 'none' }
  ],
  xAxis: [xAxisOf(0), xAxisOf(1)],
  yAxis: [yAxisOf(0, topYTicks), yAxisOf(1, bottomYTicks)],
  graphic: [
    { type: 'text', left: 443, top: 28, style: { text: ciLabel, fill: '#000', font: '22px ' + FONT } },
    { type: 'text', left: 462, top: 662, style: { text: ciLabel, fill: '#000', font: '22px ' + FONT } }
  ],
  series: [
    ellipseSeries(0, topEllipse),
    ellipseSeries(1, bottomEllipse),
    dotSeries(0, topOuter.concat(topCore), topArrow, 'arrow'),
    dotSeries(1, bottomOuter.concat(bottomCore), bottomArrow, openArrow)
  ]
}

chart.setOption(option)
window.addEventListener('resize', () => chart.resize())
</script>
</body>
</html>
